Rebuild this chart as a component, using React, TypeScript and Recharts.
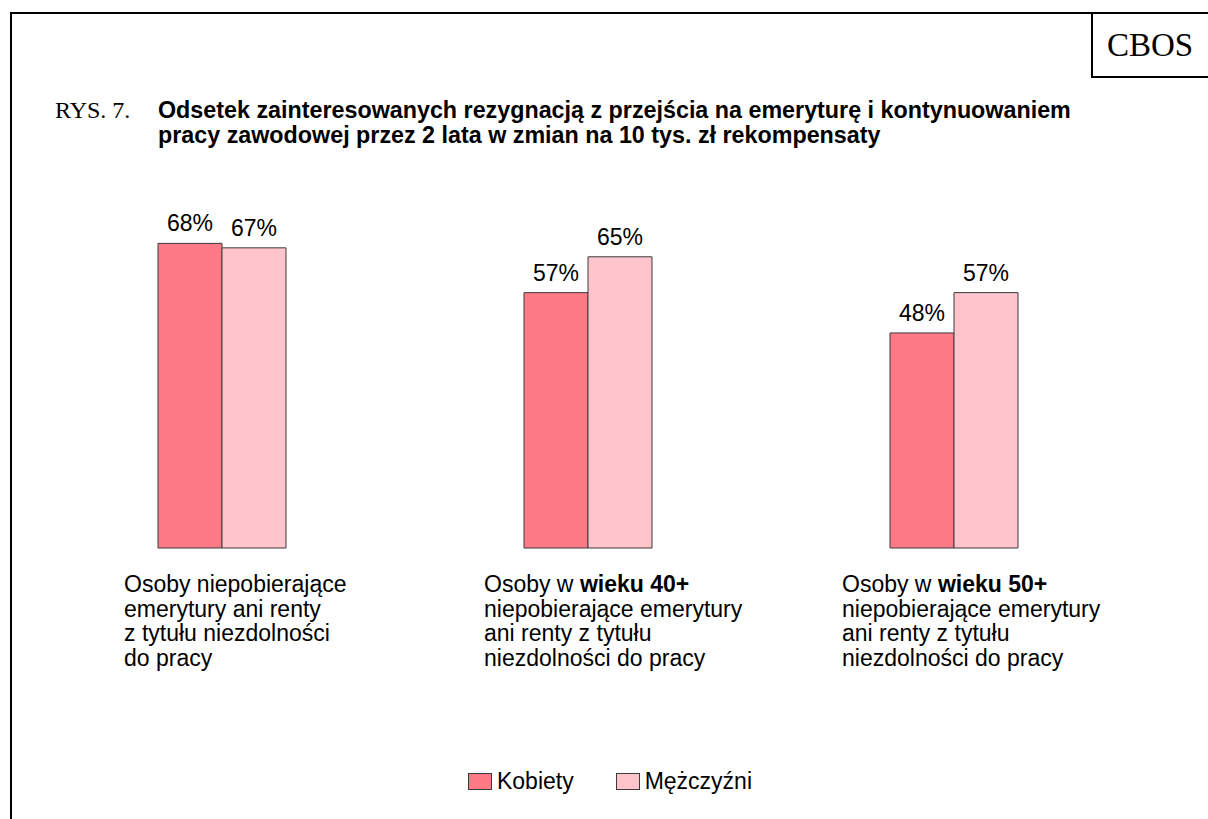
import { Bar, BarChart, LabelList, Legend, XAxis, YAxis } from "recharts";

// category labels: "|" breaks a line, **...** is bold
const categories = [
  "Osoby niepobierające|emerytury ani renty|z tytułu niezdolności|do pracy",
  "Osoby w **wieku 40+**|niepobierające emerytury|ani renty z tytułu|niezdolności do pracy",
  "Osoby w **wieku 50+**|niepobierające emerytury|ani renty z tytułu|niezdolności do pracy",
];
const kobiety = [68, 57, 48];
const mezczyzni = [67, 65, 57];
const seriesNames = ["Kobiety", "Mężczyźni"];
const titleLines = [
  "Odsetek zainteresowanych rezygnacją z przejścia na emeryturę i kontynuowaniem",
  "pracy zawodowej przez 2 lata w zmian na 10 tys. zł rekompensaty",
];

const data = categories.map((name, i) => ({
  name,
  kobiety: kobiety[i],
  mezczyzni: mezczyzni[i],
}));

const SANS = "'Liberation Sans', Arial, Helvetica, sans-serif";
const SERIF = "'Liberation Serif', 'Times New Roman', serif";
const COLORS = ["#FF7A87", "#FFC4CC"];
const STROKE = "#3a3a3a";
const LABEL_DX = [-98, -104, -112];

function CategoryTick(props: any) {
  const { x, y, payload, index } = props;
  const lines: string[] = String(payload.value).split("|");
  const left = x + (LABEL_DX[index] ?? -100);
  return (
    <text x={left} y={y} fontFamily={SANS} fontSize={23} fill="#000" textAnchor="start" style={{ whiteSpace: "pre" }}>
      {lines.map((line, i) => (
        <tspan key={i} x={left} dy={i === 0 ? 44 : 24.5}>
          {line.split("**").map((part, j) => (
            <tspan key={j} fontWeight={j % 2 ? "bold" : "normal"}>
              {part}
            </tspan>
          ))}
        </tspan>
      ))}
    </text>
  );
}

function LegendContent(props: any) {
  const items = props.payload || [];
  return (
    <div style={{ display: "flex", justifyContent: "center", alignItems: "center", gap: 42, fontFamily: SANS, fontSize: 23, height: 28 }}>
      {items.map((it: any) => (
        <div key={it.value} style={{ display: "flex", alignItems: "center" }}>
          <span
            style={{
              display: "inline-block",
              width: 24,
              height: 17,
              background: it.color,
              border: `1px solid ${STROKE}`,
              boxSizing: "border-box",
              marginRight: 5,
            }}
          />
          <span>{it.value}</span>
        </div>
      ))}
    </div>
  );
}

export default function App() {
  return (
    <div style={{ position: "absolute", left: 0, top: 0, width: 1208, height: 819, overflow: "hidden", background: "#fff" }}>
      <div style={{ position: "absolute", left: 10, top: 12, width: 1400, height: 1000, borderTop: "2px solid #000", borderLeft: "2px solid #000" }} />
      <div
        style={{
          position: "absolute",
          left: 1091,
          top: 12,
          width: 200,
          height: 62,
          border: "2px solid #000",
          fontFamily: SERIF,
          fontSize: 33,
          lineHeight: "62px",
          paddingLeft: 14,
          boxSizing: "content-box",
        }}
      >
        CBOS
      </div>
      <div style={{ position: "absolute", left: 55, top: 98, fontFamily: SERIF, fontSize: 24, lineHeight: "25px" }}>RYS. 7.</div>
      <div style={{ position: "absolute", left: 158, top: 98, fontFamily: SANS, fontSize: 23.3, fontWeight: "bold", lineHeight: "25px", whiteSpace: "nowrap" }}>
        {titleLines.map((l) => (
          <div key={l}>{l}</div>
        ))}
      </div>
      <div style={{ position: "absolute", left: 0, top: 0 }}>
        <BarChart width={1208} height={819} data={data} margin={{ top: 100, right: 71, left: 39, bottom: 141 }} barGap={0} barSize={64}>
          <YAxis hide domain={[0, 100]} />
          <XAxis dataKey="name" axisLine={false} tickLine={false} tickSize={0} tickMargin={0} height={130} interval={0} tick={<CategoryTick />} />
          <Legend
            verticalAlign="middle"
            align="center"
            content={<LegendContent />}
            wrapperStyle={{ position: "absolute", top: 767, left: 6, width: 1208 }}
          />
          <Bar dataKey="kobiety" name={seriesNames[0]} fill={COLORS[0]} stroke={STROKE} strokeWidth={1} isAnimationActive={false}>
            <LabelList dataKey="kobiety" position="top" offset={12} formatter={(v: any) => `${v}%`} fontFamily={SANS} fontSize={23} fill="#000" />
          </Bar>
          <Bar dataKey="mezczyzni" name={seriesNames[1]} fill={COLORS[1]} stroke={STROKE} strokeWidth={1} isAnimationActive={false}>
            <LabelList dataKey="mezczyzni" position="top" offset={12} formatter={(v: any) => `${v}%`} fontFamily={SANS} fontSize={23} fill="#000" />
          </Bar>
        </BarChart>
      </div>
    </div>
  );
}
